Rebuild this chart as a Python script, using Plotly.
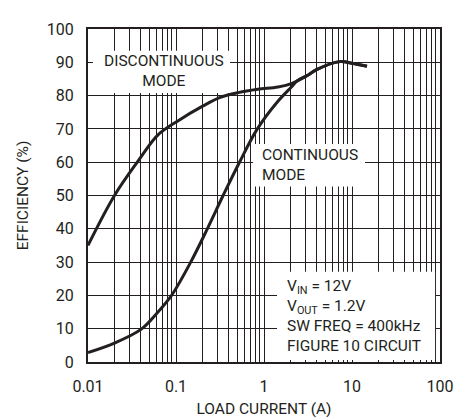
import plotly.graph_objects as go

# Data
disc_x = [0.01, 0.02, 0.037, 0.0624, 0.105, 0.203, 0.313, 0.51, 0.85, 1.44, 2.05, 3.18, 3.96, 7.3, 10.0, 14.8]
disc_y = [35.0, 50.0, 60.3, 68.2, 72.4, 76.9, 79.4, 80.9, 81.9, 82.6, 83.6, 86.2, 87.8, 90.2, 89.7, 88.8]
cont_x = [0.01, 0.02, 0.04, 0.06, 0.089, 0.147, 0.227, 0.343, 0.527, 0.84, 1.44, 2.05, 2.4, 3.18, 3.96, 7.3, 10.0, 14.8]
cont_y = [2.85, 5.7, 9.8, 14.5, 20.0, 30.0, 40.0, 50.0, 60.0, 70.0, 78.3, 82.6, 84.5, 86.2, 87.8, 90.2, 89.7, 88.8]

decades = [0.01, 0.1, 1, 10]
x_tickvals = [d * m for d in decades for m in range(1, 10)] + [100]
x_ticktext = [("%g" % (d * m)) if m == 1 else "" for d in decades for m in range(1, 10)] + ["100"]
y_tickvals = list(range(0, 101, 10))

FONT = "Roboto, Liberation Sans, sans-serif"
INK = "#231f20"

fig = go.Figure()
for xs, ys in [(disc_x, disc_y), (cont_x, cont_y)]:
    fig.add_trace(go.Scatter(x=xs, y=ys, mode="lines",
                             line=dict(color=INK, width=3, shape="spline", smoothing=1.0),
                             showlegend=False, hoverinfo="skip"))

fig.update_layout(
    width=464, height=419,
    margin=dict(l=80, r=32, t=14, b=54),
    paper_bgcolor="white", plot_bgcolor="white",
    font=dict(family=FONT, size=16, color=INK),
    showlegend=False,
)
fig.update_xaxes(
    type="log", range=[-2, 2],
    tickmode="array", tickvals=x_tickvals, ticktext=x_ticktext,
    showgrid=True, gridcolor=INK, gridwidth=1,
    showline=True, linecolor=INK, linewidth=2, mirror=True,
    ticks="", ticklabelstandoff=9,
    tickfont=dict(size=16),
    title=dict(text="LOAD CURRENT (A)", font=dict(size=15.5), standoff=8),
    zeroline=False,
)
fig.update_yaxes(
    range=[0, 100], tickmode="array", tickvals=y_tickvals,
    showgrid=True, gridcolor=INK, gridwidth=1,
    showline=True, linecolor=INK, linewidth=2, mirror=True,
    ticks="", ticklabelstandoff=9,
    tickfont=dict(size=16),
    title=dict(text="EFFICIENCY (%)", font=dict(size=15.5), standoff=14),
    zeroline=False,
)

# white knock-out panels behind the labels (paper coordinates)
boxes = [
    (0.0142, 0.4034, 0.8077, 0.9345),
    (0.469, 0.787, 0.527, 0.655),
    (0.537, 0.986, 0.0057, 0.2707),
]
for x0, x1, y0, y1 in boxes:
    fig.add_shape(type="rect", xref="paper", yref="paper", x0=x0, x1=x1, y0=y0, y1=y1,
                  fillcolor="white", line=dict(width=0), layer="above")

ann_font = dict(family=FONT, size=15.5, color=INK)
fig.add_annotation(xref="paper", yref="paper", x=0.2159, y=0.8746, xanchor="center", yanchor="middle",
                   text="DISCONTINUOUS<br>MODE", showarrow=False, align="center", font=ann_font)
fig.add_annotation(xref="paper", yref="paper", x=0.4886, y=0.591, xanchor="left", yanchor="middle",
                   text="CONTINUOUS<br>MODE", showarrow=False, align="left", font=ann_font)
fig.add_annotation(xref="paper", yref="paper", x=0.5597, y=0.1396, xanchor="left", yanchor="middle",
                   text="V<sub>IN</sub> = 12V<br>V<sub>OUT</sub> = 1.2V<br>SW FREQ = 400kHz<br>FIGURE 10 CIRCUIT",
                   showarrow=False, align="left", font=ann_font)

fig.write_html("out.html")
